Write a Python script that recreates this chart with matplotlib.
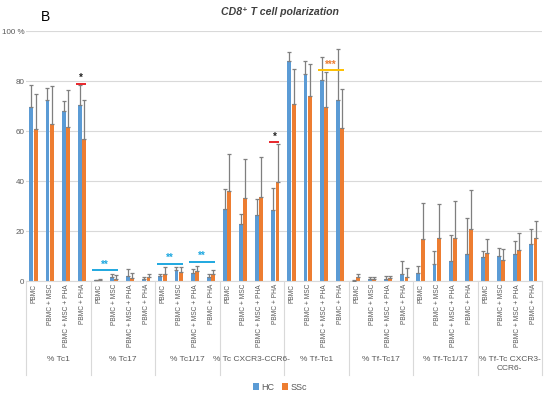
import numpy as np
import matplotlib
matplotlib.use("Agg")
import matplotlib.pyplot as plt

plt.rcParams['font.family'] = ['Liberation Sans', 'DejaVu Sans']

# data (values in %)
groups = ['% Tc1', '% Tc17', '% Tc1/17', '% Tc CXCR3-CCR6-',
          '% Tf-Tc1', '% Tf-Tc17', '% Tf-Tc1/17', '% Tf-Tc CXCR3-\nCCR6-']
conditions = ['PBMC', 'PBMC + MSC', 'PBMC + MSC + PHA', 'PBMC + PHA']

hc_mean = [69.7, 72.4, 68.0, 70.4,
           0.3, 1.6, 2.2, 0.8,
           2.0, 4.3, 3.4, 1.7,
           28.8, 22.8, 26.4, 28.4,
           88.0, 82.8, 80.4, 72.4,
           0.2, 1.0, 1.0, 2.9,
           3.2, 6.8, 8.1, 10.9,
           9.7, 10.0, 10.9, 14.7]
hc_top = [78.3, 77.1, 72.1, 78.3,
          0.5, 3.0, 4.7, 1.8,
          2.8, 5.7, 5.0, 2.9,
          36.7, 27.0, 32.8, 37.2,
          91.7, 87.9, 89.7, 92.7,
          0.4, 1.8, 2.2, 8.1,
          6.1, 12.1, 18.4, 25.3,
          12.1, 13.1, 15.9, 20.9]
ssc_mean = [60.8, 62.8, 61.6, 56.8,
            0.6, 1.0, 1.2, 1.5,
            2.8, 3.5, 4.0, 2.8,
            36.1, 33.3, 33.7, 39.7,
            71.0, 74.1, 69.7, 61.3,
            1.5, 0.7, 1.2, 1.7,
            16.8, 17.2, 17.4, 20.7,
            11.2, 8.3, 12.4, 17.2]
ssc_top = [74.9, 77.9, 76.4, 72.5,
           0.9, 2.5, 3.2, 3.0,
           5.7, 5.7, 6.2, 4.5,
           50.7, 48.7, 49.5, 54.7,
           84.8, 86.7, 83.5, 76.7,
           2.8, 1.7, 2.2, 5.1,
           31.1, 30.8, 31.9, 36.3,
           16.7, 12.8, 19.1, 24.0]

# significance marks: (group, first condition, last condition, height, colour, stars, star colour)
sig = [(0, 3, 3, 79.0, '#e8262b', '*', '#222222'),
       (1, 0, 1, 4.3, '#1fa8e0', '**', '#1fa8e0'),
       (2, 0, 1, 7.0, '#1fa8e0', '**', '#1fa8e0'),
       (2, 2, 3, 7.7, '#1fa8e0', '**', '#1fa8e0'),
       (3, 3, 3, 55.5, '#e8262b', '*', '#222222'),
       (4, 2, 3, 84.3, '#ffc000', '***', '#ed7d31')]

blue = '#5b9bd5'
orange = '#ed7d31'
grid_c = '#d9d9d9'
txt_c = '#595959'

n = len(hc_mean)
x = np.arange(n)
w = 0.24

fig = plt.figure(figsize=(5.5, 3.94), dpi=100)
ax = fig.add_axes([26 / 550, 1 - 281 / 394, 516 / 550, 250 / 394])

hc_err = [np.zeros(n), np.array(hc_top) - np.array(hc_mean)]
ssc_err = [np.zeros(n), np.array(ssc_top) - np.array(ssc_mean)]
ax.bar(x - 0.17, hc_mean, w, color=blue, label='HC', zorder=2)
ax.bar(x + 0.1, ssc_mean, w, color=orange, label='SSc', zorder=2)
ax.errorbar(x - 0.17, hc_mean, yerr=hc_err, fmt='none', ecolor='#7f7f7f',
            elinewidth=0.9, capsize=1.5, capthick=0.9, zorder=3)
ax.errorbar(x + 0.1, ssc_mean, yerr=ssc_err, fmt='none', ecolor='#7f7f7f',
            elinewidth=0.9, capsize=1.5, capthick=0.9, zorder=3)

ax.set_xlim(-0.5, n - 0.5)
ax.set_ylim(0, 100)
ax.set_yticks(range(0, 101, 20))
ax.set_yticklabels(['0', '20', '40', '60', '80', '100 %'], color=txt_c, fontsize=5.8)
ax.tick_params(axis='y', length=0, pad=1)
ax.yaxis.grid(True, color=grid_c, lw=0.8)
ax.set_axisbelow(True)
ax.set_xticks([])
for s in ['left', 'right', 'top']:
    ax.spines[s].set_visible(False)
ax.spines['bottom'].set_color(grid_c)

# category axis (two levels)
tr = ax.get_xaxis_transform()
for i in range(n):
    ax.text(i, -0.012, conditions[i % 4], rotation=90, ha='center', va='top',
            fontsize=4.8, color=txt_c, transform=tr, clip_on=False)
for g in range(len(groups) + 1):
    ax.plot([g * 4 - 0.5, g * 4 - 0.5], [0, -0.376], color=grid_c, lw=0.8,
            transform=tr, clip_on=False)
for g, name in enumerate(groups):
    ax.text(g * 4 + 1.5, -0.3, name, ha='center', va='top', fontsize=6,
            color=txt_c, transform=tr, clip_on=False, linespacing=1.3)

# significance bars
for g, a, b, h, lc, st, sc in sig:
    x0 = g * 4 + a - 0.4
    x1 = g * 4 + b + 0.22
    ax.plot([x0, x1], [h, h], color=lc, lw=1.4, zorder=4, solid_capstyle='butt')
    ax.text((x0 + x1) / 2, h + 0.3, st, ha='center', va='bottom', fontsize=7,
            color=sc, fontweight='bold', zorder=4)

fig.text(280 / 550, 1 - 12 / 394, 'CD8⁺ T cell polarization', ha='center', va='center',
         fontsize=7.6, fontstyle='italic', fontweight='bold', color='#404040')
fig.text(46 / 550, 1 - 17 / 394, 'B', ha='center', va='center', fontsize=10, color='black')

fig.legend(loc='center', bbox_to_anchor=(280 / 550, 1 - 387 / 394), ncol=2,
           frameon=False, fontsize=6.5, handlelength=0.7, handleheight=0.7,
           handletextpad=0.3, columnspacing=0.8, labelcolor=txt_c)

fig.savefig('out.png', dpi=100)
